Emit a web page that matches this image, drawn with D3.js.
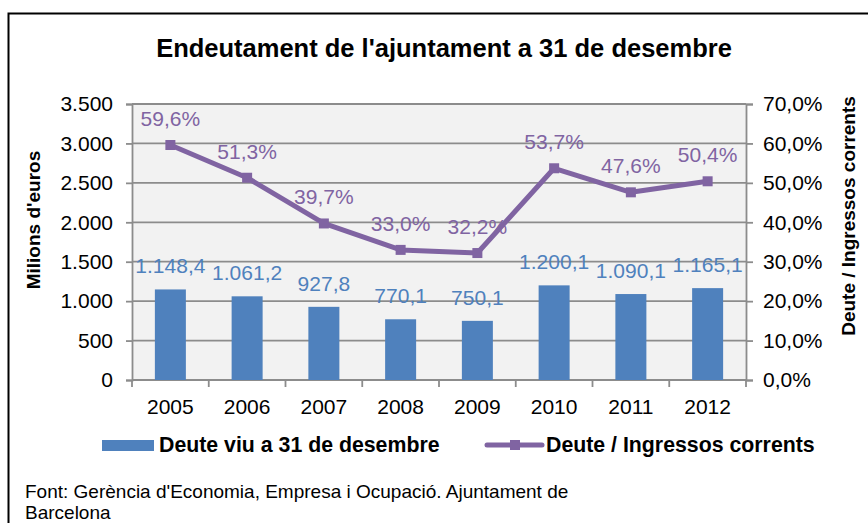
<!DOCTYPE html>
<html>
<head>
<meta charset="utf-8">
<script src="https://cdn.jsdelivr.net/npm/d3@7"></script>
<style>
  html, body { margin: 0; padding: 0; background: #fff; }
  svg { display: block; font-family: "Liberation Sans", Arial, sans-serif; }
</style>
</head>
<body>
<svg id="chart" width="868" height="523"></svg>
<script>
// Municipal debt, Barcelona, 2005–2012
const years = ["2005", "2006", "2007", "2008", "2009", "2010", "2011", "2012"];
const debtMillions = [1148.4, 1061.2, 927.8, 770.1, 750.1, 1200.1, 1090.1, 1165.1];
const debtToRevenuePct = [59.6, 51.3, 39.7, 33.0, 32.2, 53.7, 47.6, 50.4];
const leftTicks = [0, 500, 1000, 1500, 2000, 2500, 3000, 3500];
const rightTicks = [0, 10, 20, 30, 40, 50, 60, 70];

const titleText = "Endeutament de l'ajuntament a 31 de desembre";
const leftAxisTitle = "Milions d'euros";
const rightAxisTitle = "Deute / Ingressos corrents";
const barSeriesName = "Deute viu a 31 de desembre";
const lineSeriesName = "Deute / Ingressos corrents";
const sourceLines = ["Font: Gerència d'Economia, Empresa i Ocupació. Ajuntament de", "Barcelona"];

const BLUE = "#4f81bd";
const PURPLE = "#8064a2";
const GRID = "#8c8c8c";
const FS = 21;

const svg = d3.select("#chart");

// chart frame
svg.append("rect")
  .attr("x", 8.5).attr("y", 13.5)
  .attr("width", 900).attr("height", 600)
  .attr("fill", "#fff").attr("stroke", "#000").attr("stroke-width", 2);

const plot = { left: 132, right: 746, top: 104, bottom: 380 };

const x = d3.scaleBand().domain(years).range([plot.left, plot.right]).paddingInner(0).paddingOuter(0);
const yL = d3.scaleLinear().domain([0, 3500]).range([plot.bottom, plot.top]);
const yR = d3.scaleLinear().domain([0, 70]).range([plot.bottom, plot.top]);

const fmtThousands = d3.formatLocale({ decimal: ",", thousands: ".", grouping: [3], currency: ["", "€"] });
const fmtInt = fmtThousands.format(",.0f");
const fmtOne = fmtThousands.format(",.1f");

// plot background
svg.append("rect")
  .attr("x", plot.left).attr("y", plot.top)
  .attr("width", plot.right - plot.left).attr("height", plot.bottom - plot.top)
  .attr("fill", "#f2f2f2");

// horizontal gridlines
svg.append("g")
  .selectAll("line")
  .data(leftTicks)
  .join("line")
  .attr("x1", plot.left).attr("x2", plot.right)
  .attr("y1", d => yL(d)).attr("y2", d => yL(d))
  .attr("stroke", GRID).attr("stroke-width", 1.8);

// left axis
const gL = svg.append("g")
  .attr("transform", `translate(${plot.left},0)`)
  .call(d3.axisLeft(yL).tickValues(leftTicks).tickFormat(fmtInt).tickSize(6).tickPadding(13));
gL.select(".domain").attr("stroke", GRID).attr("stroke-width", 1.8);
gL.selectAll(".tick line").attr("stroke", GRID).attr("stroke-width", 1.8);
gL.selectAll(".tick text").attr("font-size", FS).attr("fill", "#000")
  .attr("font-family", "Liberation Sans, Arial, sans-serif");

// right axis
const gR = svg.append("g")
  .attr("transform", `translate(${plot.right},0)`)
  .call(d3.axisRight(yR).tickValues(rightTicks).tickFormat(d => fmtOne(d) + "%").tickSize(7).tickPadding(10));
gR.select(".domain").attr("stroke", GRID).attr("stroke-width", 1.8);
gR.selectAll(".tick line").attr("stroke", GRID).attr("stroke-width", 1.8);
gR.selectAll(".tick text").attr("font-size", FS).attr("fill", "#000")
  .attr("font-family", "Liberation Sans, Arial, sans-serif");

// bottom axis: ticks at category boundaries
const boundaries = years.map(y => x(y)).concat([plot.right]);
svg.append("line")
  .attr("x1", plot.left).attr("x2", plot.right)
  .attr("y1", plot.bottom).attr("y2", plot.bottom)
  .attr("stroke", GRID).attr("stroke-width", 1.8);
svg.append("g")
  .selectAll("line")
  .data(boundaries)
  .join("line")
  .attr("x1", d => d).attr("x2", d => d)
  .attr("y1", plot.bottom).attr("y2", plot.bottom + 7)
  .attr("stroke", GRID).attr("stroke-width", 1.8);
svg.append("g")
  .selectAll("text")
  .data(years)
  .join("text")
  .attr("x", d => x(d) + x.bandwidth() / 2)
  .attr("y", 414)
  .attr("text-anchor", "middle")
  .attr("font-size", FS)
  .attr("fill", "#000")
  .text(d => d);

// bars
const barW = 31;
svg.append("g")
  .selectAll("rect")
  .data(years)
  .join("rect")
  .attr("x", d => x(d) + x.bandwidth() / 2 - barW / 2)
  .attr("y", (d, i) => yL(debtMillions[i]))
  .attr("width", barW)
  .attr("height", (d, i) => plot.bottom - yL(debtMillions[i]))
  .attr("fill", BLUE);

// bar value labels
svg.append("g")
  .selectAll("text")
  .data(years)
  .join("text")
  .attr("x", d => x(d) + x.bandwidth() / 2)
  .attr("y", (d, i) => yL(debtMillions[i]) - 16)
  .attr("text-anchor", "middle")
  .attr("font-size", FS)
  .attr("fill", BLUE)
  .text((d, i) => fmtOne(debtMillions[i]));

// ratio line
const line = d3.line()
  .x((d, i) => x(years[i]) + x.bandwidth() / 2)
  .y(d => yR(d));
svg.append("path")
  .datum(debtToRevenuePct)
  .attr("d", line)
  .attr("fill", "none")
  .attr("stroke", PURPLE)
  .attr("stroke-width", 5)
  .attr("stroke-linejoin", "round");

const mk = 10;
svg.append("g")
  .selectAll("rect")
  .data(debtToRevenuePct)
  .join("rect")
  .attr("x", (d, i) => x(years[i]) + x.bandwidth() / 2 - mk / 2)
  .attr("y", d => yR(d) - mk / 2)
  .attr("width", mk).attr("height", mk)
  .attr("fill", PURPLE);

svg.append("g")
  .selectAll("text")
  .data(debtToRevenuePct)
  .join("text")
  .attr("x", (d, i) => x(years[i]) + x.bandwidth() / 2)
  .attr("y", d => yR(d) - 19)
  .attr("text-anchor", "middle")
  .attr("font-size", FS)
  .attr("fill", PURPLE)
  .text(d => fmtOne(d) + "%");

// title
svg.append("text")
  .attr("x", 444).attr("y", 57)
  .attr("text-anchor", "middle")
  .attr("font-size", 25.5)
  .attr("font-weight", "bold")
  .attr("fill", "#000")
  .text(titleText);

// axis titles
svg.append("text")
  .attr("transform", "translate(40,220) rotate(-90)")
  .attr("text-anchor", "middle")
  .attr("font-size", 19)
  .attr("font-weight", "bold")
  .attr("fill", "#000")
  .text(leftAxisTitle);
svg.append("text")
  .attr("transform", "translate(855,216) rotate(-90)")
  .attr("text-anchor", "middle")
  .attr("font-size", 19)
  .attr("font-weight", "bold")
  .attr("fill", "#000")
  .text(rightAxisTitle);

// legend
const legend = svg.append("g");
legend.append("rect")
  .attr("x", 102).attr("y", 440).attr("width", 52).attr("height", 11)
  .attr("fill", BLUE);
legend.append("text")
  .attr("x", 159).attr("y", 452)
  .attr("font-size", 21.3).attr("font-weight", "bold").attr("fill", "#000")
  .text(barSeriesName);
legend.append("line")
  .attr("x1", 487).attr("x2", 542).attr("y1", 445).attr("y2", 445)
  .attr("stroke", PURPLE).attr("stroke-width", 5).attr("stroke-linecap", "round");
legend.append("rect")
  .attr("x", 510).attr("y", 440).attr("width", 10).attr("height", 10)
  .attr("fill", PURPLE);
legend.append("text")
  .attr("x", 546).attr("y", 452)
  .attr("font-size", 21.3).attr("font-weight", "bold").attr("fill", "#000")
  .text(lineSeriesName);

// source note
svg.append("g")
  .selectAll("text")
  .data(sourceLines)
  .join("text")
  .attr("x", 25)
  .attr("y", (d, i) => 497.5 + i * 21)
  .attr("font-size", 19)
  .attr("fill", "#000")
  .text(d => d);
</script>
</body>
</html>
